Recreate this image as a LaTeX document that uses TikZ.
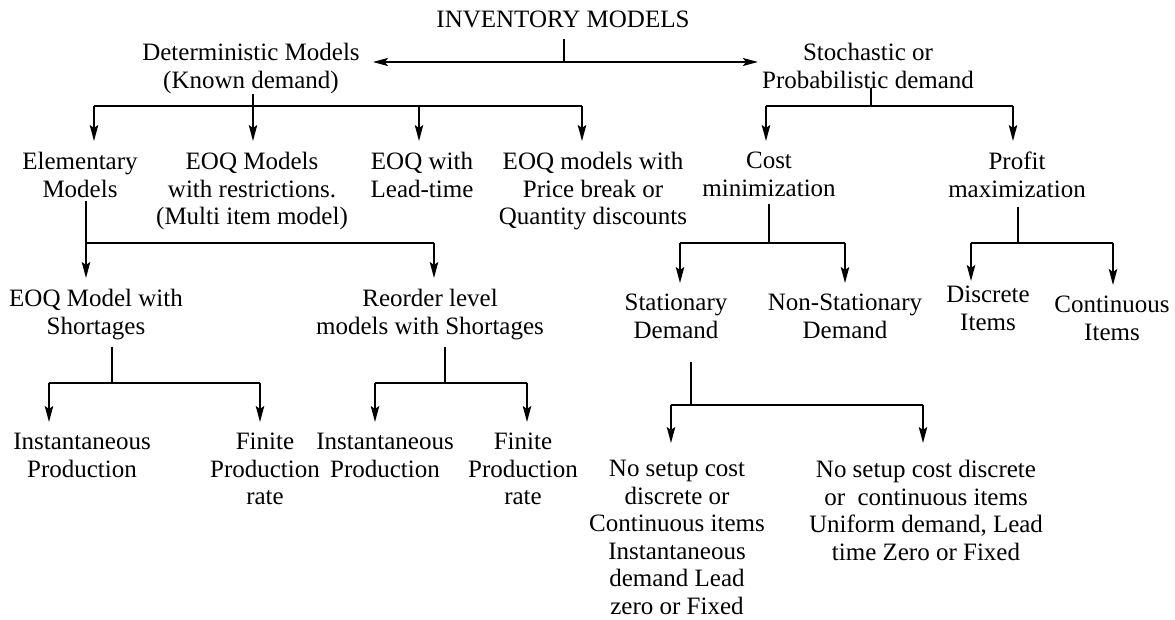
\documentclass[tikz,border=0pt]{standalone}
\usepackage{fontspec}
\setmainfont{Liberation Serif}
\usetikzlibrary{arrows.meta}
\begin{document}
\begin{tikzpicture}[x=1pt,y=-1pt,
  lbl/.style={align=center,inner sep=0pt,anchor=north,font=\fontsize{25}{27.5}\selectfont},
  ln/.style={line width=1.2pt},
  arr/.style={line width=1.4pt,-{Stealth[length=16pt,width=8.5pt,inset=3pt]},shorten >=11pt},
  harr/.style={line width=1.7pt,{Stealth[length=15pt,width=8pt,inset=3pt]}-{Stealth[length=15pt,width=8pt,inset=3pt]}},
]
\useasboundingbox (0,0) rectangle (1175,620);

% ---------- nodes ----------
\node[lbl] (root) at (563,11) {INVENTORY MODELS};
\node[lbl] (det) at (251,43) {Deterministic Models\\(Known demand)};
\node[lbl] (sto) at (868,43) {Stochastic or\\Probabilistic demand};
\node[lbl] (elem) at (80,152) {Elementary\\Models};
\node[lbl] (eoqr) at (252,152) {EOQ Models\\with restrictions.\\(Multi item model)};
\node[lbl] (eoql) at (422,152) {EOQ with\\Lead-time};
\node[lbl] (eoqp) at (593,152) {EOQ models with\\Price break or\\Quantity discounts};
\node[lbl] (cost) at (769,152) {Cost\\minimization};
\node[lbl] (prof) at (1017,152) {Profit\\maximization};
\node[lbl] (eoqs) at (96,289) {EOQ Model with\\Shortages};
\node[lbl] (reord) at (430,289) {Reorder level\\models with Shortages};
\node[lbl] (stat) at (676,294) {Stationary\\Demand};
\node[lbl] (nonst) at (845,294) {Non-Stationary\\Demand};
\node[lbl] (disc) at (988,286) {Discrete\\Items};
\node[lbl] (cont) at (1112,296) {Continuous\\Items};
\node[lbl] (inst1) at (82,433) {Instantaneous\\Production};
\node[lbl] (fin1) at (265,433) {Finite\\Production\\rate};
\node[lbl] (inst2) at (385,433) {Instantaneous\\Production};
\node[lbl] (fin2) at (523,433) {Finite\\Production\\rate};
\node[lbl] (nsc1) at (677,460) {No setup cost\\discrete or\\Continuous items\\Instantaneous\\demand Lead\\zero or Fixed};
\node[lbl] (nsc2) at (926,460) {No setup cost discrete\\or\ \ continuous items\\Uniform demand, Lead\\time Zero or Fixed};

% ---------- junction coordinates ----------
\coordinate (hj) at (564,62);
\coordinate (j1) at (253,106);  \coordinate (j1l) at (94,106);  \coordinate (j1c) at (419,106); \coordinate (j1r) at (582,106);
\coordinate (j2) at (871,106);  \coordinate (j2l) at (766,106); \coordinate (j2r) at (1013,106);
\coordinate (j3) at (86,243);   \coordinate (j3r) at (434,243);
\coordinate (j4) at (769,243);  \coordinate (j4l) at (680,243); \coordinate (j4r) at (845,243);
\coordinate (j5) at (1018,243); \coordinate (j5l) at (971,243); \coordinate (j5r) at (1113,243);
\coordinate (j6) at (112,383);  \coordinate (j6l) at (49,383);  \coordinate (j6r) at (260,383);
\coordinate (j7) at (445,383);  \coordinate (j7l) at (375,383); \coordinate (j7r) at (527,383);
\coordinate (j8) at (691,405);  \coordinate (j8l) at (671,405); \coordinate (j8r) at (923,405);

% ---------- connectors ----------
% root
\draw[ln] ([yshift=-11pt]root.south -| hj) -- (hj);
\draw[harr] ([xshift=13pt]det.east |- hj) -- ([xshift=-4pt]sto.west |- hj);

% deterministic
\draw[ln] (j1l) -- (j1r);
\draw[arr] (det.south -| j1) -- (j1) -- (j1 |- eoqr.north);
\draw[arr] (j1l) -- (j1l |- elem.north);
\draw[arr] (j1c) -- (j1c |- eoql.north);
\draw[arr] (j1r) -- (j1r |- eoqp.north);

% stochastic
\draw[ln] (sto.south -| j2) -- (j2);
\draw[ln] (j2l) -- (j2r);
\draw[arr] (j2l) -- (j2l |- cost.north);
\draw[arr] (j2r) -- (j2r |- prof.north);

% elementary
\draw[arr] ([yshift=-4pt]elem.south -| j3) -- (j3) -- (j3 |- eoqs.north);
\draw[ln] (j3) -- (j3r);
\draw[arr] (j3r) -- (j3r |- reord.north);

% cost minimization
\draw[ln] ([yshift=-7pt]cost.south -| j4) -- (j4);
\draw[ln] (j4l) -- (j4r);
\draw[arr] (j4l) -- (j4l |- stat.north);
\draw[arr] (j4r) -- (j4r |- nonst.north);

% profit maximization
\draw[ln] ([yshift=-9pt]prof.south -| j5) -- (j5);
\draw[ln] (j5l) -- (j5r);
\draw[arr,shorten >=5pt] (j5l) -- (j5l |- disc.north);
\draw[arr] (j5r) -- (j5r |- cont.north);

% EOQ with shortages
\draw[ln] ([yshift=-7pt]eoqs.south -| j6) -- (j6);
\draw[ln] (j6l) -- (j6r);
\draw[arr,shorten >=11pt] (j6l) -- (j6l |- inst1.north);
\draw[arr,shorten >=11pt] (j6r) -- (j6r |- fin1.north);

% reorder level
\draw[ln] ([yshift=-7pt]reord.south -| j7) -- (j7);
\draw[ln] (j7l) -- (j7r);
\draw[arr,shorten >=11pt] (j7l) -- (j7l |- inst2.north);
\draw[arr,shorten >=11pt] (j7r) -- (j7r |- fin2.north);

% stationary demand
\draw[ln] ([yshift=-23pt]stat.south -| j8) -- (j8);
\draw[ln] (j8l) -- (j8r);
\draw[arr,shorten >=17pt] (j8l) -- (j8l |- nsc1.north);
\draw[arr,shorten >=17pt] (j8r) -- (j8r |- nsc2.north);
\end{tikzpicture}
\end{document}
